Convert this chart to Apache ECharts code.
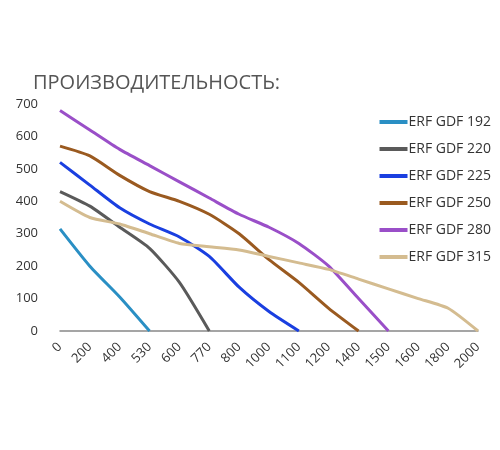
<!DOCTYPE html>
<html><head><meta charset="utf-8">
<script src="https://cdn.jsdelivr.net/npm/echarts@6/dist/echarts.min.js"></script>
<style>body{margin:0;background:#fff}#c{width:500px;height:450px}</style>
</head><body><div id="c"></div>
<script>
const categories = ["0","200","400","530","600","770","800","1000","1100","1200","1400","1500","1600","1800","2000"];
const gdf192 = [315, 200, 105, 0];
const gdf220 = [430, 385, 320, 255, 150, 0];
const gdf225 = [520, 450, 380, 330, 290, 230, 135, 60, 0];
const gdf250 = [570, 540, 480, 430, 400, 360, 300, 220, 150, 70, 0];
const gdf280 = [680, 620, 560, 510, 460, 410, 360, 320, 270, 200, 100, 0];
const gdf315 = [400, 350, 330, 300, 270, 260, 250, 230, 210, 190, 160, 130, 100, 70, 0];
const names = ["ERF GDF 192","ERF GDF 220","ERF GDF 225","ERF GDF 250","ERF GDF 280","ERF GDF 315"];
const colors = ["#2a8fc4","#5a5a5a","#1a3fe0","#9a5a20","#9a4fc8","#d4bc90"];
const data = [gdf192, gdf220, gdf225, gdf250, gdf280, gdf315];

const chart = echarts.init(document.getElementById("c"));
chart.setOption({
  title: { text: "ПРОИЗВОДИТЕЛЬНОСТЬ:", left: 28, top: 68,
    textStyle: { color: "#555", fontSize: 20, fontWeight: "normal", fontFamily: "Open Sans" } },
  legend: { orient: "vertical", right: 4, top: 110, itemGap: 13, itemWidth: 28, itemHeight: 4,
    icon: "rect", textStyle: { fontSize: 14, color: "#333", fontFamily: "Open Sans", padding: [0, 0, 0, -4] },
    data: names },
  grid: { left: 60, right: 22, top: 104, bottom: 119, containLabel: false },
  xAxis: { type: "category", data: categories, boundaryGap: false,
    axisLine: { lineStyle: { color: "#888", width: 1.5 } }, axisTick: { show: false },
    axisLabel: { rotate: 45, color: "#333", fontSize: 13, margin: 14, fontFamily: "Open Sans" } },
  yAxis: { type: "value", min: 0, max: 700, interval: 100,
    splitLine: { show: false }, axisLine: { show: false },
    axisLabel: { color: "#333", fontSize: 13, margin: 22, fontFamily: "Open Sans" } },
  series: data.map((d, i) => ({
    name: names[i], type: "line", data: d, smooth: 0.2, showSymbol: false,
    lineStyle: { width: 3, color: colors[i] }, itemStyle: { color: colors[i] }
  }))
});
</script></body></html>
